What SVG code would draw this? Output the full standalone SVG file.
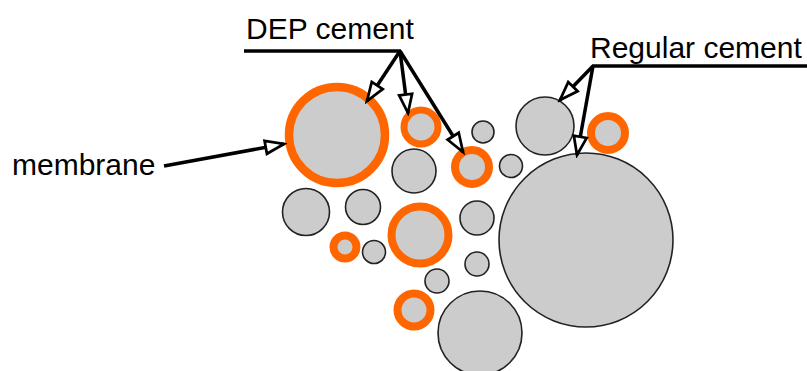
<svg xmlns="http://www.w3.org/2000/svg" width="807" height="371" viewBox="0 0 807 371">
<defs>
<style>
.g{fill:#cccccc;stroke:#222;stroke-width:1.6}
.o{fill:#cccccc;stroke:#ff6600}
.t{font-family:"Liberation Sans",Arial,sans-serif;font-size:30px;fill:#000}
.c{stroke:#000;stroke-width:3.5;fill:none}
</style>
<marker id="ah" markerUnits="userSpaceOnUse" markerWidth="24" markerHeight="20" viewBox="-2 -2 22 16" refX="17" refY="6" orient="auto">
<path d="M0,0 L17,6 L0,12 Z" fill="#fff" stroke="#000" stroke-width="2.5" stroke-linejoin="miter"/>
</marker>
</defs>
<g id="circles">
<circle id="dep1" class="o" cx="337" cy="135" r="48" stroke-width="8.5"/>
<circle id="dep2" class="o" cx="421" cy="127" r="17" stroke-width="7"/>
<circle id="dep3" class="o" cx="472" cy="167" r="17" stroke-width="8"/>
<circle id="dep4" class="o" cx="608" cy="133" r="17" stroke-width="8"/>
<circle id="dep5" class="o" cx="420" cy="235" r="28.5" stroke-width="8"/>
<circle id="dep6" class="o" cx="345" cy="247" r="11.5" stroke-width="8"/>
<circle id="dep7" class="o" cx="414" cy="310" r="16.5" stroke-width="8"/>
<circle id="reg1" class="g" cx="545" cy="126" r="29"/>
<circle id="reg2" class="g" cx="586" cy="240" r="87"/>
<circle id="g1" class="g" cx="483" cy="132" r="11"/>
<circle id="g2" class="g" cx="414" cy="171" r="22"/>
<circle id="g3" class="g" cx="511" cy="166" r="11.5"/>
<circle id="g4" class="g" cx="306" cy="212" r="23.5"/>
<circle id="g5" class="g" cx="363" cy="207" r="17.5"/>
<circle id="g6" class="g" cx="477" cy="218" r="17"/>
<circle id="g7" class="g" cx="374" cy="252" r="11.5"/>
<circle id="g8" class="g" cx="477" cy="264" r="12"/>
<circle id="g9" class="g" cx="437" cy="281" r="12"/>
<circle id="g10" class="g" cx="480" cy="333" r="42"/>
</g>
<g id="labels">
<g id="lbl-dep"><text class="t" x="246" y="39">DEP cement</text></g>
<g id="lbl-reg"><text class="t" x="590" y="58">Regular cement</text></g>
<g id="lbl-mem"><text class="t" x="12" y="175">membrane</text></g>
</g>
<g id="connectors">
<line class="c" x1="244" y1="51" x2="401" y2="51"/>
<line class="c" x1="400" y1="51" x2="367" y2="101" marker-end="url(#ah)"/>
<line class="c" x1="400" y1="51" x2="408" y2="113" marker-end="url(#ah)"/>
<line class="c" x1="400" y1="51" x2="463" y2="152" marker-end="url(#ah)"/>
<line class="c" x1="592" y1="66" x2="807" y2="66"/>
<line class="c" x1="593" y1="66" x2="560" y2="100" marker-end="url(#ah)"/>
<line class="c" x1="593" y1="66" x2="577" y2="155" marker-end="url(#ah)"/>
<line class="c" x1="164" y1="166" x2="284" y2="144" marker-end="url(#ah)"/>
</g>
</svg>
